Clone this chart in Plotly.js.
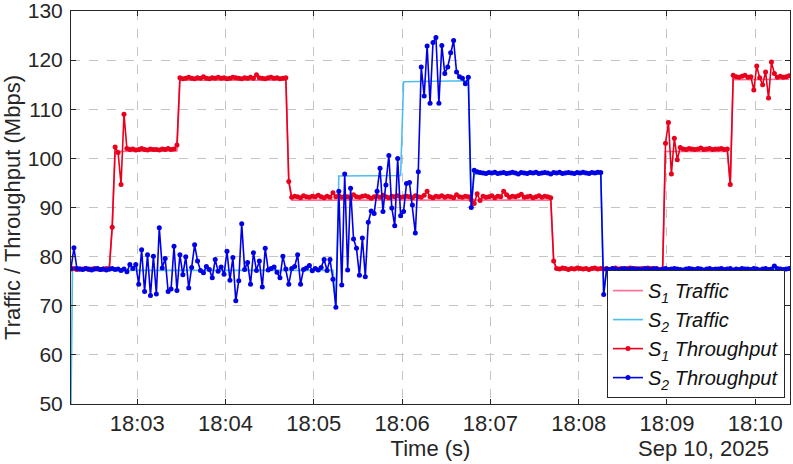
<!DOCTYPE html>
<html>
<head>
<meta charset="utf-8">
<script src="https://cdn.plot.ly/plotly-3.0.1.min.js"></script>
<style>
  html, body { margin: 0; padding: 0; background: white; }
</style>
</head>
<body>
<div id="plot"></div>
<script>
// start of the log: 10 Sep 2025 18:02:15 (UTC ms, so labels show as read)
var startTime = Date.UTC(2025, 8, 10, 18, 2, 15);
var sampleStep = 2; // seconds between throughput samples

// traffic: step changes, given as (seconds from start, Mbps)
var s1TrafficT = [0, 26, 28, 30, 72, 74, 146, 148, 150, 326, 328, 330, 400, 402, 404, 446, 448, 450, 488];
var s1TrafficV = [77.5, 77.5, 86.0, 101.4, 101.5, 115.9, 115.9, 95.3, 91.5, 91.5, 79.1, 77.3, 77.3, 76.7, 101.4, 101.4, 94.7, 116.0, 116.1];

var s2TrafficT = [0, 1, 178, 180, 182, 224, 226, 270, 272, 274, 360, 362, 364, 488];
var s2TrafficV = [50.0, 77.2, 77.2, 69.7, 96.4, 96.5, 115.6, 115.8, 90.0, 96.8, 96.9, 72.3, 77.3, 77.4];

// throughput, one value every 2 s
var s1Throughput = [
  77.5,77.6,77.4,77.5,77.5,77.6,77.4,77.5,77.6,77.5,77.4,77.5,77.6,77.5,
  86.0,
  102.3,101.2,94.7,109.0,102.0,
  101.8,101.9,101.7,101.8,102.0,101.8,101.7,101.9,101.8,101.8,101.7,101.9,101.8,102.0,101.8,101.9,
  102.7,
  116.4,116.2,116.3,116.5,116.3,116.2,116.4,116.3,116.6,116.3,
  116.2,116.4,116.3,116.5,116.3,116.4,116.2,116.3,116.5,116.4,
  116.3,116.2,116.4,116.3,116.5,116.3,117.0,116.4,116.3,116.2,
  116.4,116.5,116.3,116.4,116.2,116.3,116.4,
  95.3,
  92.1,92.3,92.2,92.0,92.4,92.2,92.1,92.3,92.2,92.5,
  92.2,92.0,92.3,92.1,93.0,92.2,92.4,92.1,92.3,92.2,
  92.0,92.6,92.2,92.1,92.3,92.4,92.2,91.9,92.2,92.3,
  92.1,92.5,92.2,92.0,92.3,92.2,92.4,92.1,92.2,92.3,
  92.2,92.0,92.4,92.2,92.1,92.5,93.3,92.2,92.0,92.3,
  92.2,92.4,92.1,92.3,92.2,92.0,92.6,92.2,92.1,92.3,
  92.2,91.6,90.8,92.8,91.4,92.3,92.1,92.2,92.4,92.0,
  92.3,92.2,93.3,92.6,92.1,92.3,92.2,92.4,92.7,92.1,
  92.2,92.3,92.0,92.2,92.4,92.1,92.3,92.2,92.0,
  79.1,
  77.6,77.5,77.7,77.6,77.4,77.6,77.5,77.7,77.6,77.5,
  77.6,77.4,77.6,77.7,77.5,77.6,77.5,77.6,77.4,77.6,
  77.7,77.5,77.6,77.5,77.6,77.7,77.4,77.6,77.5,77.6,
  77.5,77.7,77.6,77.5,77.6,77.4,
  76.7,
  103.1,107.3,96.8,104.1,99.7,102.2,
  101.9,101.8,102.0,101.9,101.8,101.9,102.1,101.8,101.9,102.0,101.8,101.9,101.9,102.0,101.8,101.9,
  94.7,
  116.9,116.6,116.5,116.7,116.9,116.5,116.6,113.9,118.8,116.4,
  115.0,117.6,112.3,119.6,117.3,116.5,116.7,116.5,116.6,116.8
];

var s2Throughput = [
  77.6,81.8,77.6,
  77.5,77.4,77.6,77.5,77.3,77.5,77.6,77.4,77.5,77.3,77.5,77.6,77.4,77.5,77.2,77.5,
  76.9,78.4,77.6,78.4,
  74.4,81.4,72.9,80.4,72.1,80.1,72.4,85.9,
  77.7,79.6,72.9,73.4,82.1,73.1,80.4,76.3,80.0,73.6,
  77.8,82.4,79.1,77.2,76.7,78.0,77.4,75.7,79.4,77.0,
  77.9,76.4,81.1,75.2,79.8,71.0,75.1,86.7,77.4,78.8,
  74.4,80.8,77.2,79.1,73.8,81.7,77.3,77.6,77.9,76.8,
  75.7,80.1,77.5,74.4,77.6,78.0,80.4,74.4,77.4,77.7,
  78.2,77.1,77.6,77.3,77.8,79.4,77.2,79.4,75.4,
  69.7,93.3,74.2,96.8,77.3,93.9,83.6,81.7,76.2,83.8,
  75.9,87.0,89.3,88.8,93.3,98.0,89.2,94.6,100.6,89.9,
  86.3,100.0,88.3,89.2,94.9,95.1,90.5,84.8,97.3,118.6,
  112.7,122.9,111.2,123.6,124.6,111.2,123.0,117.3,118.6,121.5,
  124.0,117.6,116.6,116.3,115.2,116.5,90.0,
  97.6,97.3,97.1,97.0,96.9,97.1,97.0,97.2,96.9,97.0,
  97.1,96.9,97.0,97.2,97.0,96.8,97.1,97.0,96.9,97.1,
  97.0,97.2,96.9,97.0,97.1,97.0,96.8,97.1,97.0,97.2,
  96.9,97.0,97.1,97.0,96.9,97.1,97.0,97.2,97.0,96.9,
  97.1,97.0,97.2,97.1,
  72.3,
  77.5,77.4,77.6,77.5,77.3,77.5,77.6,77.4,77.5,77.6,
  77.4,77.5,77.3,77.6,77.5,77.4,77.6,77.5,77.3,77.5,
  77.6,77.4,77.5,77.6,77.5,77.4,77.3,77.5,77.6,77.5,
  77.4,77.6,77.5,77.3,77.5,77.6,77.4,77.5,77.5,77.6,
  77.4,77.5,77.6,77.3,77.5,77.4,77.6,77.5,77.5,77.4,
  77.6,77.5,77.3,77.5,77.6,77.4,77.5,78.1,77.6,77.5,
  77.4,77.5,77.6
];

function toTime(sec) { return startTime + sec * 1000; }
function sampleTimes(vals) { return vals.map(function (v, i) { return toTime(i * sampleStep); }); }

var trace1 = {
  x: s1TrafficT.map(toTime), y: s1TrafficV,
  type: 'scatter', mode: 'lines',
  name: '<i>S</i><sub><i>1</i></sub><i> Traffic</i>',
  line: {color: '#ff6b93', width: 1.6}
};
var trace2 = {
  x: s2TrafficT.map(toTime), y: s2TrafficV,
  type: 'scatter', mode: 'lines',
  name: '<i>S</i><sub><i>2</i></sub><i> Traffic</i>',
  line: {color: '#4dbeee', width: 1.6}
};
var trace3 = {
  x: sampleTimes(s1Throughput), y: s1Throughput,
  type: 'scatter', mode: 'lines+markers',
  name: '<i>S</i><sub><i>1</i></sub><i> Throughput</i>',
  line: {color: '#e8001c', width: 1.6},
  marker: {color: '#e8001c', size: 5}
};
var trace4 = {
  x: sampleTimes(s2Throughput), y: s2Throughput,
  type: 'scatter', mode: 'lines+markers',
  name: '<i>S</i><sub><i>2</i></sub><i> Throughput</i>',
  line: {color: '#0000e6', width: 1.6},
  marker: {color: '#0000e6', size: 5}
};

var data = [trace1, trace2, trace3, trace4];

var axisColor = '#262626';

var layout = {
  width: 793,
  height: 464,
  margin: {l: 71, r: 3, t: 11, b: 60},
  paper_bgcolor: 'white',
  plot_bgcolor: 'white',
  font: {family: 'Liberation Sans, Arial, sans-serif', color: axisColor},
  showlegend: true,
  xaxis: {
    type: 'date',
    range: [toTime(0), toTime(488.6)],
    tick0: toTime(45),
    dtick: 60000,
    tickformat: '%H:%M',
    ticks: 'inside', ticklen: 5, tickcolor: axisColor,
    showline: true, linecolor: axisColor, linewidth: 1, mirror: 'ticks',
    showgrid: true, gridcolor: '#c4c4c4', griddash: 'dash',
    zeroline: false,
    tickfont: {size: 22},
    ticklabeloverflow: 'allow',
    title: {text: 'Time (s)', font: {size: 22}, standoff: 2}
  },
  yaxis: {
    range: [50, 130],
    dtick: 10,
    ticks: 'inside', ticklen: 5, tickcolor: axisColor,
    showline: true, linecolor: axisColor, linewidth: 1, mirror: 'ticks',
    showgrid: true, gridcolor: '#c4c4c4', griddash: 'dash',
    zeroline: false,
    tickfont: {size: 21},
    ticklabeloverflow: 'allow',
    ticklabelstandoff: 3,
    title: {text: 'Traffic / Throughput (Mbps)', font: {size: 22}, standoff: 6}
  },
  legend: {
    x: 0.993, xanchor: 'right',
    y: 0.015, yanchor: 'bottom',
    bgcolor: 'white', bordercolor: axisColor, borderwidth: 1,
    font: {size: 20, color: '#111111'},
    tracegroupgap: 0
  },
  annotations: [{
    text: 'Sep 10, 2025',
    xref: 'paper', yref: 'paper',
    x: 0.879, y: -0.112,
    xanchor: 'center', yanchor: 'middle',
    showarrow: false,
    font: {size: 22, color: axisColor}
  }]
};

Plotly.newPlot('plot', data, layout, {displayModeBar: false});
</script>
</body>
</html>
